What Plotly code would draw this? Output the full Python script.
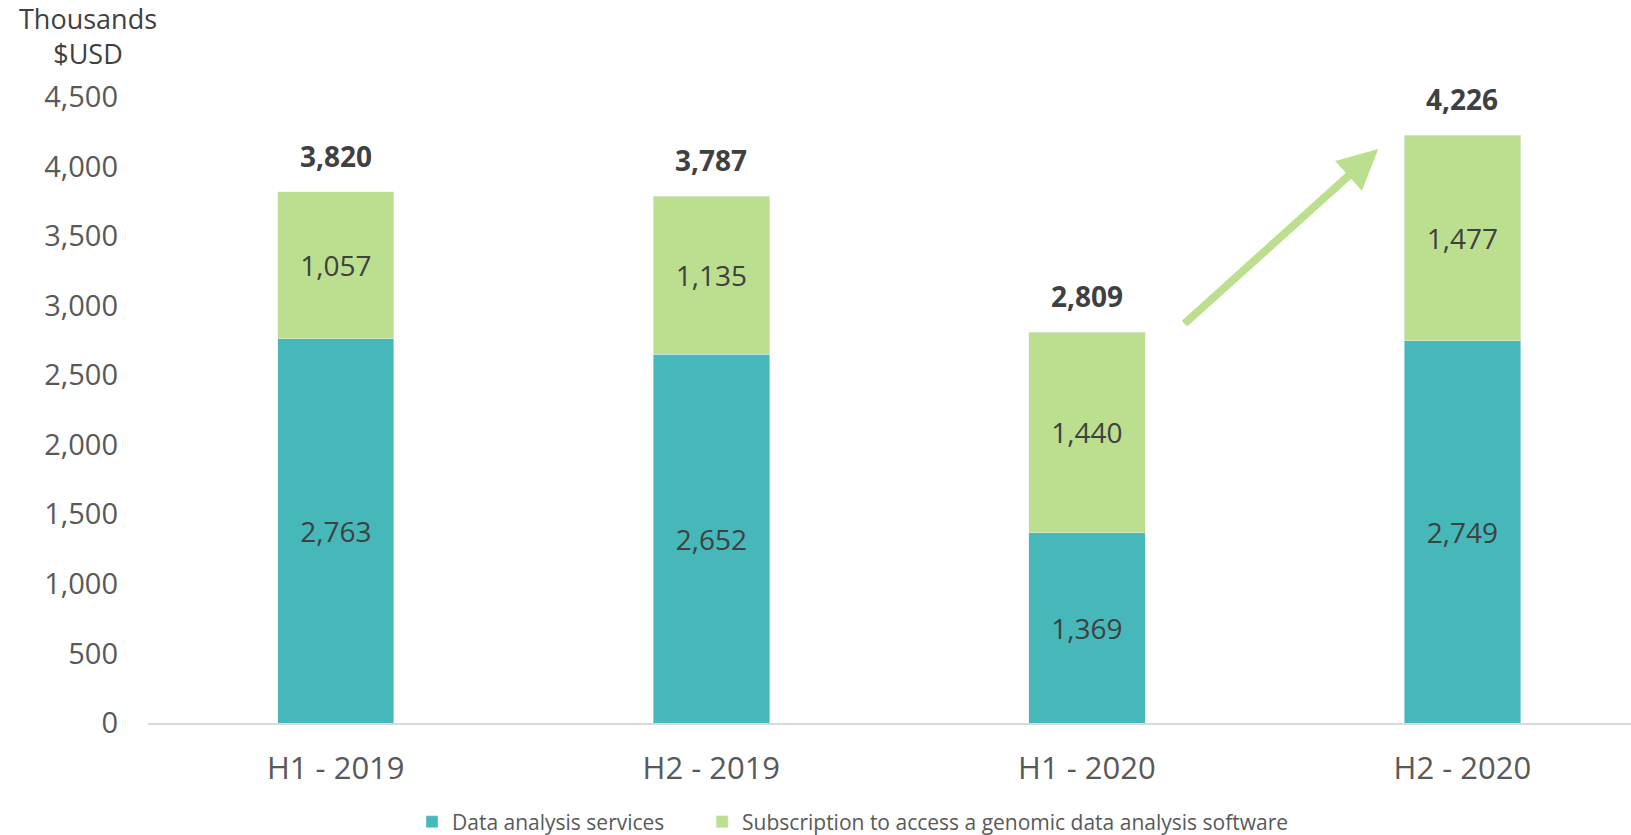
import plotly.graph_objects as go

categories = ["H1 - 2019", "H2 - 2019", "H1 - 2020", "H2 - 2020"]
data_services = [2763, 2652, 1369, 2749]
subscription = [1057, 1135, 1440, 1477]
totals = [3820, 3787, 2809, 4226]
series_names = ["Data analysis services", "Subscription to access a genomic data analysis software"]

TEAL = "#46B8BA"
GREEN = "#BBDF8E"
TXT = "#404040"
TICK = "#595959"
FONT = "Open Sans"

W, H = 1631, 835
L, R, T, B = 148, 0, 97, 112
PW = W - L - R
PH = H - T - B

fig = go.Figure()
fig.add_trace(go.Bar(
    x=categories, y=data_services, name=series_names[0] + "\u00a0" * 6, marker_color=TEAL,
    width=0.31, text=[f"{v:,}" for v in data_services], textposition="inside",
    insidetextanchor="middle", textfont=dict(size=28, color=TXT, family=FONT),
))
fig.add_trace(go.Bar(
    x=categories, y=subscription, name=series_names[1], marker_color=GREEN,
    width=0.31, text=[f"{v:,}" for v in subscription], textposition="inside",
    insidetextanchor="middle", textfont=dict(size=28, color=TXT, family=FONT),
))

for c, t in zip(categories, totals):
    fig.add_annotation(x=c, y=t, xref="x", yref="y", text=f"<b>{t:,}</b>",
                       showarrow=False, yshift=36,
                       font=dict(size=28, color=TXT, family=FONT))

# growth arrow
fig.add_annotation(x=2.776, y=4126, ax=2.256, ay=2861, xref="x", yref="y",
                   axref="x", ayref="y", showarrow=True, arrowhead=2,
                   arrowsize=1.0, arrowwidth=8, arrowcolor=GREEN, text="")

fig.add_annotation(xref="paper", yref="paper", text="Thousands<br>$USD", align="center",
                   x=(88 - L) / PW, y=1 + (T - 36) / PH,
                   xanchor="center", yanchor="middle", showarrow=False,
                   borderpad=0, font=dict(size=27, color=TXT, family=FONT))

fig.update_layout(
    barmode="stack",
    width=W, height=H,
    margin=dict(l=L, r=R, t=T, b=B, autoexpand=False),
    plot_bgcolor="white", paper_bgcolor="white",
    font=dict(family=FONT, color=TICK),
    showlegend=True,
    legend=dict(orientation="h", x=(412 - L) / PW, xanchor="left", y=-(822 - 723) / PH,
                yanchor="middle", font=dict(size=21, color=TICK, family=FONT),
                traceorder="normal", itemwidth=30),
)
fig.update_xaxes(range=[-0.5, 3.449], showline=True, linecolor="#D9D9D9", linewidth=2,
                 ticks="", tickfont=dict(size=31, color=TICK), ticklabelstandoff=17,
                 showgrid=False)
fig.update_yaxes(range=[0, 4500], dtick=500, tickformat=",", showgrid=False, zeroline=False,
                 showline=False, ticks="", tickfont=dict(size=29, color=TICK),
                 ticklabelstandoff=29)

fig.write_html("out.html", config={"displayModeBar": False},
               post_script="document.body.style.margin='0';document.body.style.overflow='hidden';")
